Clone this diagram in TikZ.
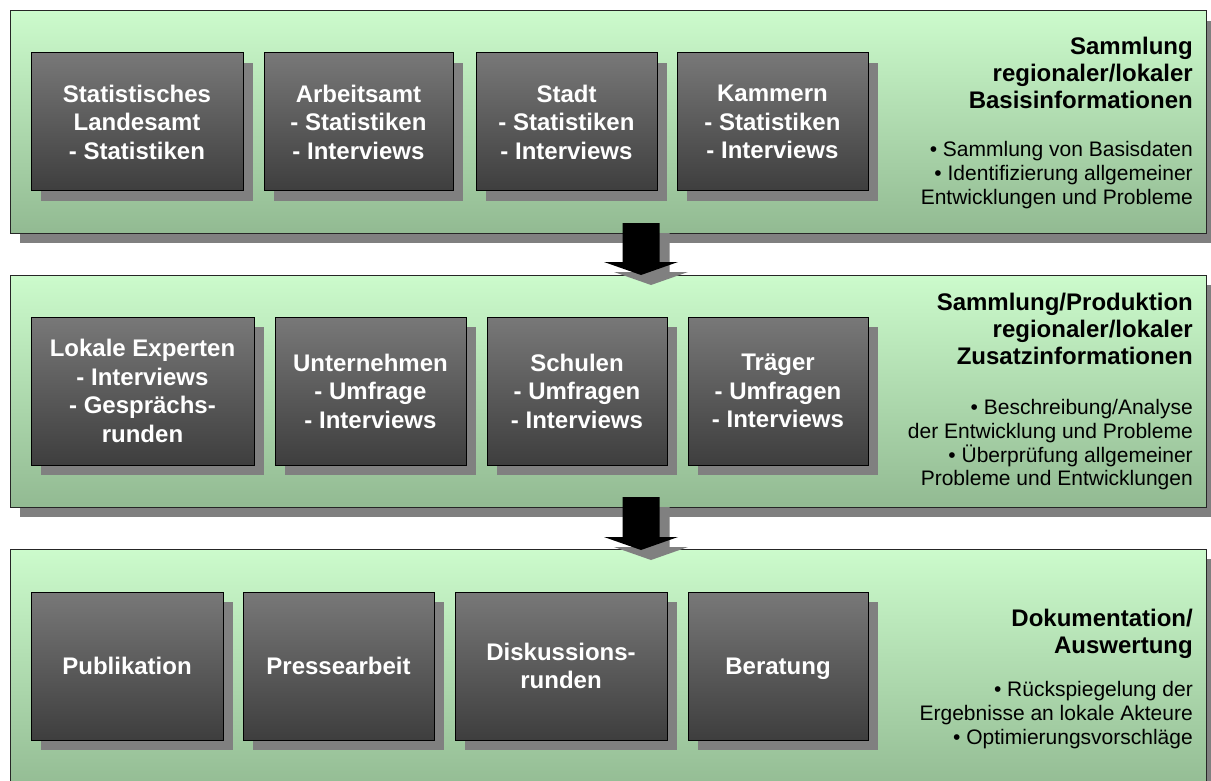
\documentclass[tikz,border=0pt]{standalone}
\usepackage{fontspec}
\setmainfont{Liberation Sans}
\usepackage{tikz}
\usetikzlibrary{calc, shadows}
\definecolor{sgreen}{RGB}{204,251,204}
\definecolor{dgreen}{RGB}{146,186,146}
\definecolor{lgray}{RGB}{120,120,120}
\definecolor{dgray}{RGB}{62,62,62}
\definecolor{sgray}{RGB}{128,128,128}

\begin{document}
\begin{tikzpicture}[x=1pt, y=-1pt,
    STG/.style={rectangle, draw=black!85, line width=1pt, top color=sgreen, bottom color=dgreen, anchor=north west, inner sep=0pt, outer sep=0pt, minimum width=1196pt,
        drop shadow={shadow xshift=10pt, shadow yshift=-10pt, fill=sgray, opacity=1}},
    SRC/.style={rectangle, draw=black, line width=1pt, top color=lgray, bottom color=dgray, anchor=north west, inner sep=0pt, outer sep=0pt, text=white, align=center, font=\bfseries\fontsize{24}{28.5}\selectfont,
        drop shadow={shadow xshift=10pt, shadow yshift=-10pt, fill=sgray, opacity=1}},
    TTL/.style={anchor=north east, align=right, inner sep=0pt, font=\bfseries\fontsize{24}{27}\selectfont},
    TXT/.style={anchor=north east, align=right, inner sep=0pt, font=\fontsize{21}{23.8}\selectfont},
    ARR/.style={fill=black, drop shadow={shadow xshift=10pt, shadow yshift=-10pt, fill=sgray, opacity=1}}
    ]
        \useasboundingbox (0,0) rectangle (1211,781);
        \clip (0,0) rectangle (1211,781);
        % stages
        \node[STG, minimum height=222pt] (ST1) at (10,11) {};
        \node[STG, minimum height=232pt] (ST2) at (10,275) {};
        \node[STG, minimum height=245pt] (ST3) at (10,549) {};
        % stage 1
        \node[SRC, minimum width=212pt, minimum height=138pt] (B11) at (31,53) {Statistisches\\Landesamt\\- Statistiken};
        \node[SRC, minimum width=189pt, minimum height=138pt] (B12) at (264,53) {Arbeitsamt\\- Statistiken\\- Interviews};
        \node[SRC, minimum width=181pt, minimum height=138pt] (B13) at (476,53) {Stadt\\- Statistiken\\- Interviews};
        \node[SRC, minimum width=191pt, minimum height=138pt] (B14) at (677,53) {Kammern\\- Statistiken\\- Interviews};
        \node[TTL] (T1) at (1193,37) {Sammlung\\regionaler/lokaler\\Basisinformationen};
        \node[TXT] (D1) at (1193,141) {• Sammlung von Basisdaten\\• Identifizierung allgemeiner\\Entwicklungen und Probleme};
        % stage 2
        \node[SRC, minimum width=223pt, minimum height=148pt] (B21) at (31,317) {Lokale Experten\\- Interviews\\- Gesprächs-\\runden};
        \node[SRC, minimum width=191pt, minimum height=148pt] (B22) at (275,317) {Unternehmen\\- Umfrage\\- Interviews};
        \node[SRC, minimum width=180pt, minimum height=148pt] (B23) at (487,317) {Schulen\\- Umfragen\\- Interviews};
        \node[SRC, minimum width=180pt, minimum height=148pt] (B24) at (688,317) {Träger\\- Umfragen\\- Interviews};
        \node[TTL] (T2) at (1193,293) {Sammlung/Produktion\\regionaler/lokaler\\Zusatzinformationen};
        \node[TXT] (D2) at (1193,399) {• Beschreibung/Analyse\\der Entwicklung und Probleme\\• Überprüfung allgemeiner\\Probleme und Entwicklungen};
        % stage 3
        \node[SRC, minimum width=192pt, minimum height=148pt] (B31) at (31,592) {Publikation};
        \node[SRC, minimum width=191pt, minimum height=148pt] (B32) at (243,592) {Pressearbeit};
        \node[SRC, minimum width=212pt, minimum height=148pt] (B33) at (455,592) {Diskussions-\\runden};
        \node[SRC, minimum width=180pt, minimum height=148pt, text depth=0pt] (B34) at (688,592) {Beratung};
        \node[TTL] (T3) at (1193,609) {Dokumentation/\\Auswertung};
        \node[TXT] (D3) at (1193,681) {• Rückspiegelung der\\Ergebnisse an lokale Akteure\\• Optimierungsvorschläge};
        % block arrows between the stages
        \coordinate (A1) at ($(ST1.south)+(33,-10)$);
        \coordinate (A2) at ($(ST2.north)+(33,0)$);
        \coordinate (A3) at ($(ST2.south)+(33,-10)$);
        \coordinate (A4) at ($(ST3.north)+(33,1)$);
        \foreach \a/\b in {A1/A2, A3/A4}
            \path[ARR] let \p1=(\a), \p2=(\b) in
                (\x1-18.5pt,\y1) -- (\x1+18.5pt,\y1) -- (\x1+18.5pt,\y2+13pt) -- (\x1+37pt,\y2+13pt)
                -- (\x1,\y2) -- (\x1-37pt,\y2+13pt) -- (\x1-18.5pt,\y2+13pt) -- cycle;
\end{tikzpicture}
\end{document}
